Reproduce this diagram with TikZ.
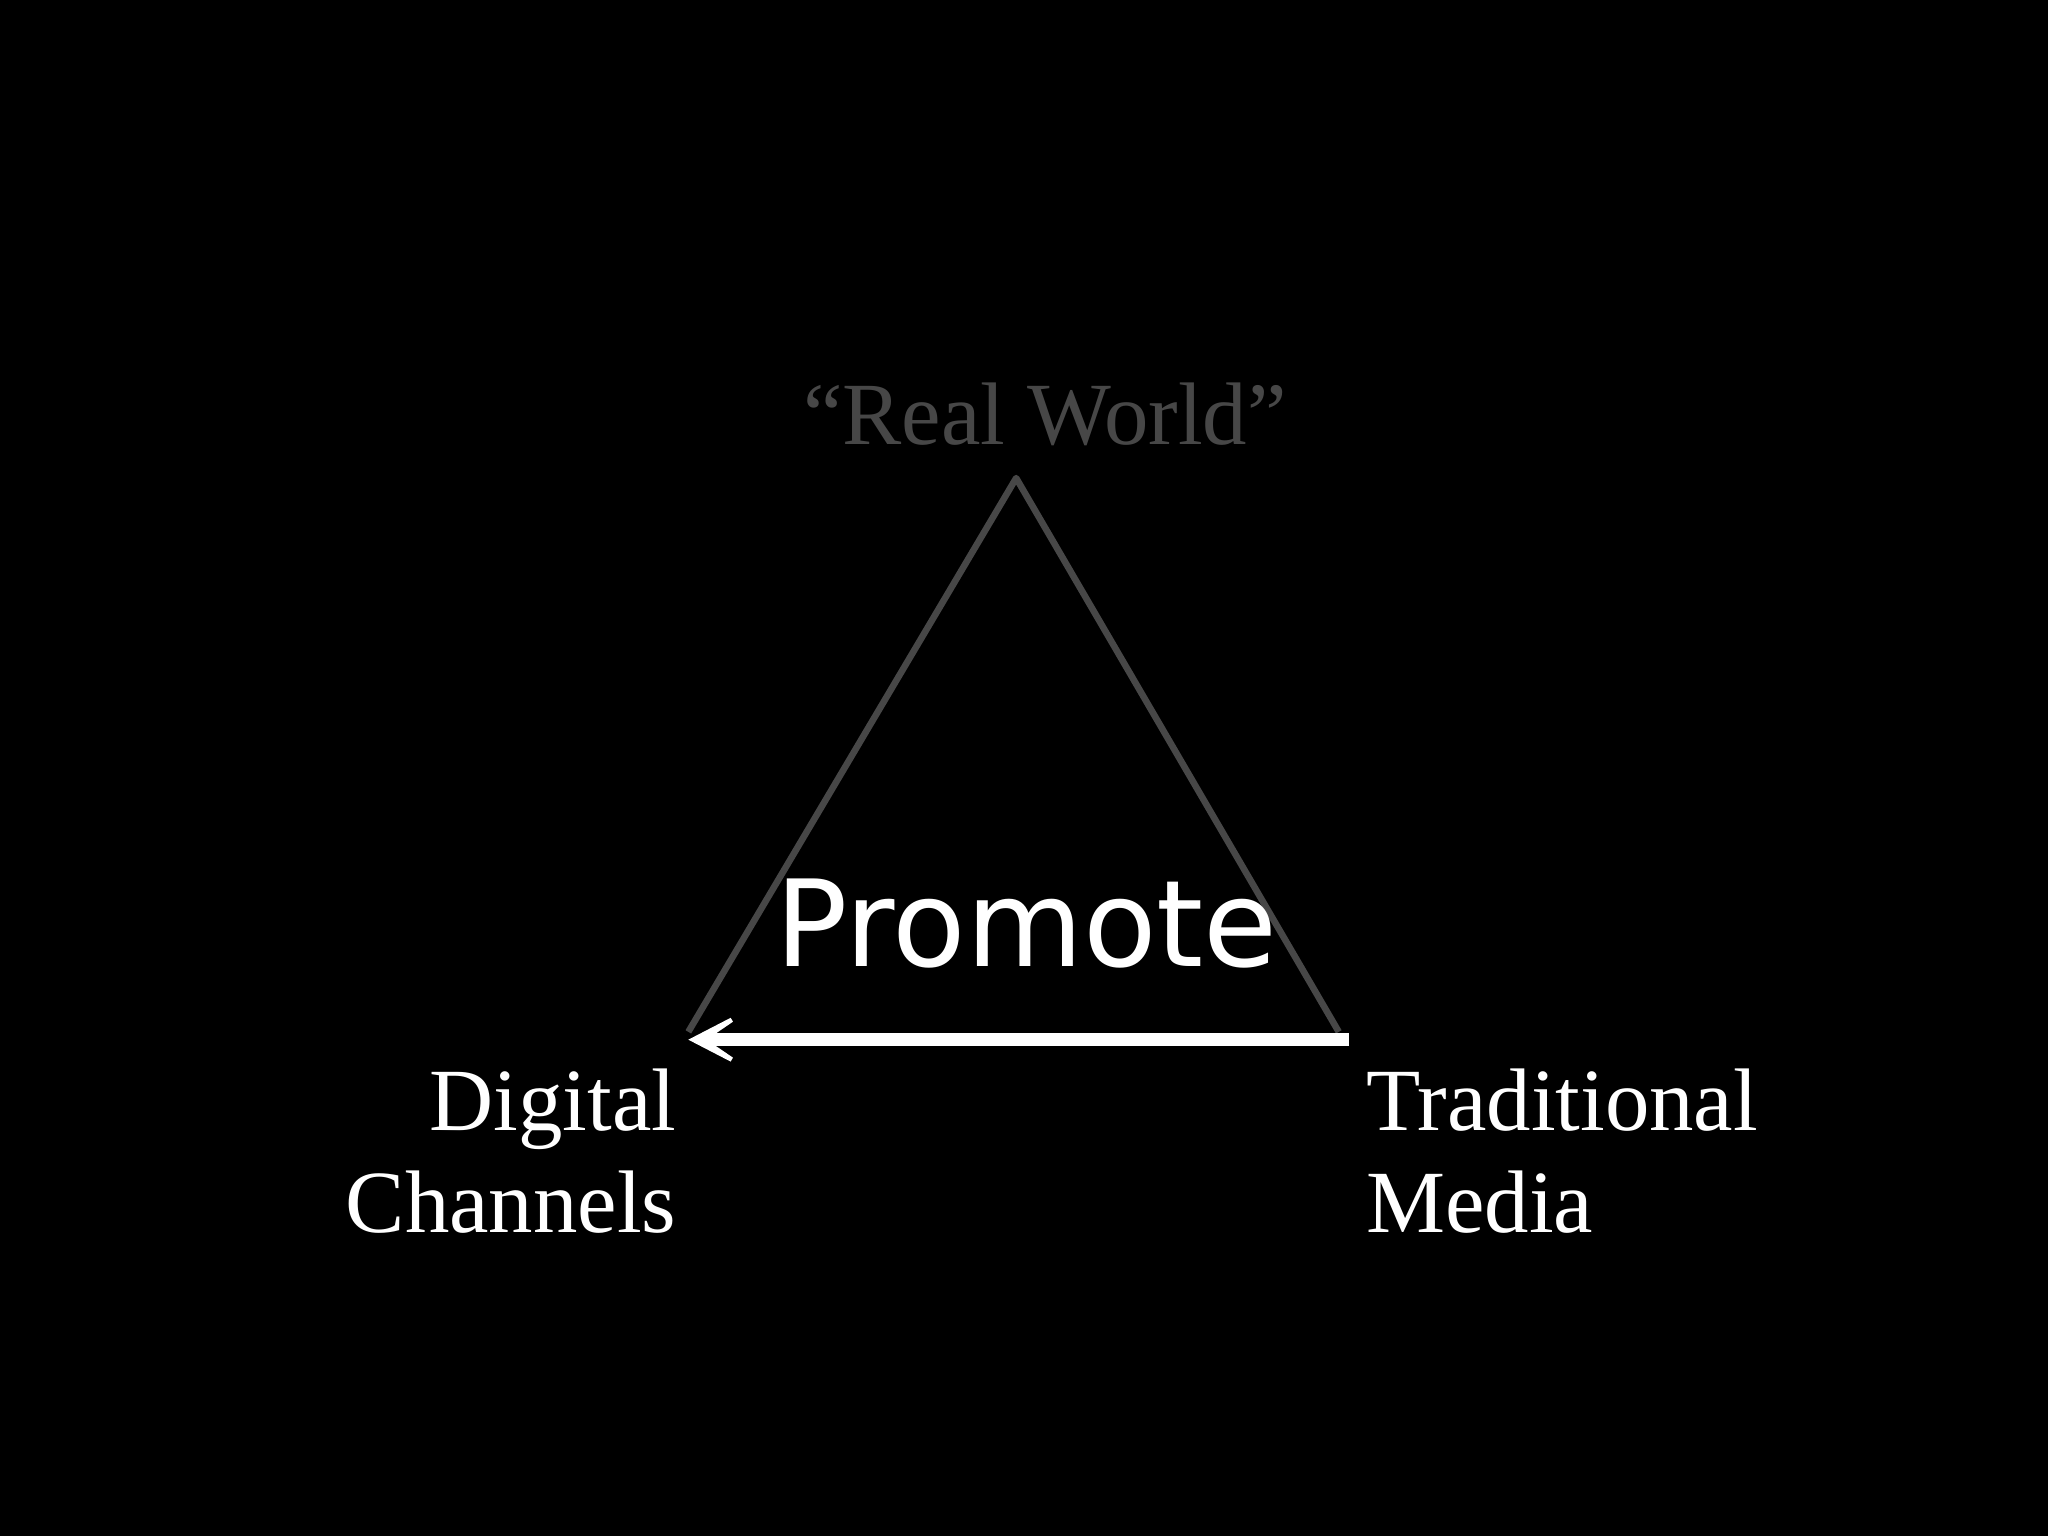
\documentclass[tikz,border=0pt]{standalone}
\usepackage{fontspec}
\setmainfont{Liberation Serif}
\newfontfamily\promfont{DejaVu Sans}
\usetikzlibrary{arrows.meta}
\begin{document}
\begin{tikzpicture}[x=1pt,y=-1pt,
  lbl/.style={text=white,font=\fontsize{68}{78}\selectfont,inner sep=0pt}]
\fill[black] (0,0) rectangle (1568,1176);
\coordinate (apex) at (778,366);
\coordinate (L) at (527,790);
\coordinate (R) at (1025,790);
\draw[color=black!72!white,line width=5pt,line join=round] (L) -- (apex) -- (R);
\coordinate (as) at (1033,796);
\coordinate (ae) at (527,796);
\draw[white,line width=10pt,-{Stealth[length=58pt,width=60pt,inset=44pt]}] (as) -- (ae);
\node[inner sep=0pt,anchor=base,text=black!72!white,font=\fontsize{68}{78}\selectfont] (rw) at (800,340) {“Real World”};
\node[inner sep=0pt,anchor=base,text=white,font=\promfont\fontsize{92}{100}\selectfont] (pr) at (786,740) {Promote};
\node[lbl,anchor=north east,align=right] (dc) at (518,818) {Digital\\Channels};
\node[lbl,anchor=north west,align=left] (tm) at (1046,818) {Traditional\\Media};
\end{tikzpicture}
\end{document}
